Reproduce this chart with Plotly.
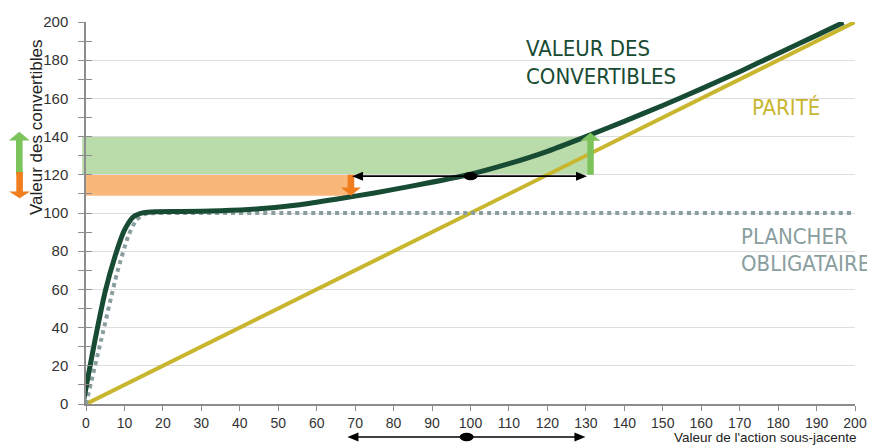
import plotly.graph_objects as go

# ---------------- data ----------------
parite_x = [0, 200]
parite_y = [0, 200]

plancher_x = [0, 4, 8, 11, 13, 15, 18, 25, 60, 100, 150, 200]
plancher_y = [0, 34, 68, 88, 96, 99.2, 100, 100, 100, 100, 100, 100]

conv_x = [-0.8, 2, 5, 7.5, 10, 12.3, 15, 18, 25, 35, 45, 55, 65, 75, 85, 100,
          110, 120, 130, 140, 150, 160, 170, 180, 190, 197]
conv_y = [0, 30, 59, 77, 91, 98, 100.2, 100.7, 100.8, 101.2, 102.2, 104.2, 107.2,
          110.5, 114.2, 120.3, 125.8, 132.3, 140, 148, 156.3, 165, 174, 183.5, 193, 199.8]

x_ticks = list(range(0, 201, 10))
y_ticks = list(range(0, 201, 20))

hausse_range = [120, 140]   # green band
baisse_range = [109, 120]   # orange band
action_range = [69.2, 130.3]
action_center = 100
conv_center = 119.3

# ---------------- layout constants ----------------
W, H = 875, 446
OFF = 8  # page body margin offset of the rendered figure
# target plot area in page pixels: x 86..855, y 22..404
ML, MT = 86 - OFF, 22 - OFF
MR, MB = W - (855 - OFF), H - (404 - OFF)
PW, PH = W - ML - MR, H - MT - MB
XMIN, XMAX, YMIN, YMAX = 0, 200, 0, 200

def xpap(v):
    return (v - XMIN) / (XMAX - XMIN)

def pxw(p):  # pixel width -> paper
    return p / PW

def pyh_data(p):  # pixel height -> data y
    return p * (YMAX - YMIN) / PH

def ypix_paper(py):  # absolute page pixel y -> paper
    return (H - MB - (py - OFF)) / PH

def xpix_paper(px):
    return (px - OFF - ML) / PW

C_CONV = "#174b33"
C_PAR = "#c9b62f"
C_PLAN = "#8a9e9f"
C_GFILL = "#badcaa"
C_OFILL = "#f9b77a"
C_GARROW = "#7dc35b"
C_OARROW = "#f07d1e"

fig = go.Figure()

fig.add_trace(go.Scatter(x=parite_x, y=parite_y, mode="lines",
                         line=dict(color=C_PAR, width=4), hoverinfo="skip"))
fig.add_trace(go.Scatter(x=plancher_x, y=plancher_y, mode="lines",
                         line=dict(color=C_PLAN, width=4, dash="dot", shape="spline", smoothing=0.6),
                         hoverinfo="skip"))
fig.add_trace(go.Scatter(x=conv_x, y=conv_y, mode="lines",
                         line=dict(color=C_CONV, width=5, shape="spline", smoothing=0.6),
                         hoverinfo="skip"))
# helper trace for inner ticks axis
fig.add_trace(go.Scatter(x=[None], y=[None], yaxis="y2", showlegend=False, hoverinfo="skip"))

shapes = []
# bands
shapes.append(dict(type="rect", xref="paper", yref="y", layer="below",
                   x0=xpap(-1), x1=xpap(action_range[1]), y0=hausse_range[0], y1=hausse_range[1],
                   fillcolor=C_GFILL, line=dict(width=0)))
shapes.append(dict(type="rect", xref="paper", yref="y", layer="below",
                   x0=xpap(-0.5), x1=xpap(action_range[0] - 0.5), y0=baisse_range[0], y1=baisse_range[1],
                   fillcolor=C_OFILL, line=dict(width=0)))

def vert_arrow_data(xc_paper, y_start, y_base, y_tip, color, half_shaft=3.3, half_head=10):
    hs, hh = pxw(half_shaft), pxw(half_head)
    path = (f"M{xc_paper-hs},{y_start} L{xc_paper-hs},{y_base} L{xc_paper-hh},{y_base} "
            f"L{xc_paper},{y_tip} L{xc_paper+hh},{y_base} L{xc_paper+hs},{y_base} "
            f"L{xc_paper+hs},{y_start} Z")
    return dict(type="path", xref="paper", yref="y", path=path, fillcolor=color,
                line=dict(width=0), layer="above")

def vert_arrow_paper(xc, y_start, y_base, y_tip, color, half_shaft=3.3, half_head=10.5):
    hs, hh = pxw(half_shaft), pxw(half_head)
    path = (f"M{xc-hs},{y_start} L{xc-hs},{y_base} L{xc-hh},{y_base} "
            f"L{xc},{y_tip} L{xc+hh},{y_base} L{xc+hs},{y_base} "
            f"L{xc+hs},{y_start} Z")
    return dict(type="path", xref="paper", yref="paper", path=path, fillcolor=color,
                line=dict(width=0), layer="above")

# green up arrow at right edge of band
shapes.append(vert_arrow_data(xpap(131.2), hausse_range[0], 137.8, 142, C_GARROW))
# orange down arrow
shapes.append(vert_arrow_data(xpap(68.9), baisse_range[1], 113.3, 109, C_OARROW))

# black double arrows
def hdouble(y, yref, x0, x1, xc, dy_head, dy_dot, head_len=11):
    out = []
    hl = pxw(head_len)
    a, b = xpap(x0), xpap(x1)
    out.append(dict(type="line", xref="paper", yref=yref, x0=a + hl * 0.5, x1=b - hl * 0.5,
                    y0=y, y1=y, line=dict(color="black", width=1.6), layer="above"))
    out.append(dict(type="path", xref="paper", yref=yref, layer="above", fillcolor="black",
                    line=dict(width=0),
                    path=f"M{a},{y} L{a+hl},{y+dy_head} L{a+hl},{y-dy_head} Z"))
    out.append(dict(type="path", xref="paper", yref=yref, layer="above", fillcolor="black",
                    line=dict(width=0),
                    path=f"M{b},{y} L{b-hl},{y+dy_head} L{b-hl},{y-dy_head} Z"))
    c = xpap(xc)
    out.append(dict(type="circle", xref="paper", yref=yref, layer="above", fillcolor="black",
                    line=dict(width=0), x0=c - pxw(7), x1=c + pxw(7), y0=y - dy_dot, y1=y + dy_dot))
    return out

shapes += hdouble(conv_center, "y", action_range[0], action_range[1], action_center,
                  pyh_data(4.5), pyh_data(4.2))
shapes += hdouble(ypix_paper(437), "paper", action_range[0] - 1.2, action_range[1] - 0.4,
                  action_center - 1, 4.5 / PH, 4.2 / PH)

# legend arrows at the left
shapes.append(vert_arrow_paper(xpix_paper(19.3), ypix_paper(175), ypix_paper(140.5),
                               ypix_paper(131.7), C_GARROW))
shapes.append(vert_arrow_paper(xpix_paper(19.6), ypix_paper(172), ypix_paper(191.5),
                               ypix_paper(198.3), C_OARROW))

LBL_FONT = "Liberation Sans Narrow, Arial Narrow, DejaVu Sans Condensed, sans-serif"
LBL_SIZE = 22
annotations = [
    dict(text="VALEUR DES", x=xpix_paper(524), y=ypix_paper(48), xref="paper", yref="paper",
         xanchor="left", yanchor="middle", showarrow=False,
         font=dict(family=LBL_FONT, size=LBL_SIZE, color=C_CONV)),
    dict(text="CONVERTIBLES", x=xpix_paper(524), y=ypix_paper(76), xref="paper", yref="paper",
         xanchor="left", yanchor="middle", showarrow=False,
         font=dict(family=LBL_FONT, size=LBL_SIZE, color=C_CONV)),
    dict(text="PARITÉ", x=xpix_paper(750), y=ypix_paper(108), xref="paper", yref="paper",
         xanchor="left", yanchor="middle", showarrow=False,
         font=dict(family=LBL_FONT, size=LBL_SIZE, color=C_PAR)),
    dict(text="PLANCHER", x=xpix_paper(739), y=ypix_paper(236), xref="paper", yref="paper",
         xanchor="left", yanchor="middle", showarrow=False,
         font=dict(family=LBL_FONT, size=LBL_SIZE, color=C_PLAN)),
    dict(text="OBLIGATAIRE", x=xpix_paper(739), y=ypix_paper(264), xref="paper", yref="paper",
         xanchor="left", yanchor="middle", showarrow=False,
         font=dict(family=LBL_FONT, size=LBL_SIZE, color=C_PLAN)),
    dict(text="Valeur des convertibles", x=xpix_paper(36), y=ypix_paper(127), xref="paper",
         yref="paper", xanchor="center", yanchor="middle", textangle=-90, showarrow=False,
         font=dict(family="Liberation Sans, Arial, sans-serif", size=17, color="#222")),
    dict(text="Valeur de l'action sous-jacente", x=xpix_paper(858), y=ypix_paper(437),
         xref="paper", yref="paper", xanchor="right", yanchor="middle", showarrow=False,
         font=dict(family="Liberation Sans, Arial, sans-serif", size=13.5, color="#222")),
]

AX_COL = "#8c8c8c"
fig.update_layout(
    width=W, height=H,
    margin=dict(l=ML, r=MR, t=MT, b=MB, autoexpand=False),
    paper_bgcolor="white", plot_bgcolor="white",
    showlegend=False,
    shapes=shapes, annotations=annotations,
    font=dict(family="Liberation Sans, Arial, sans-serif", color="#333"),
    xaxis=dict(range=[XMIN, XMAX], tickvals=x_ticks, ticktext=[str(v) for v in x_ticks],
               showgrid=False, zeroline=False, showline=True, linecolor=AX_COL, linewidth=1.5,
               ticks="outside", ticklen=5, tickcolor=AX_COL, tickwidth=1, automargin=False,
               tickfont=dict(size=14, color="#333")),
    yaxis=dict(range=[YMIN, YMAX], tickvals=y_ticks, ticktext=[str(v) for v in y_ticks],
               showgrid=True, gridcolor="#dedede", gridwidth=1, zeroline=False,
               showline=True, linecolor=AX_COL, linewidth=1.5, automargin=False,
               ticks="outside", ticklen=6, tickcolor=AX_COL, tickwidth=1.2,
               minor=dict(dtick=10, ticks="outside", ticklen=6, tickcolor=AX_COL, tickwidth=1.2),
               ticklabelstandoff=7,
               tickfont=dict(size=15, color="#333")),
    yaxis2=dict(range=[YMIN, YMAX], overlaying="y", side="left", dtick=10, tick0=0,
                ticks="inside", ticklen=6, tickcolor=AX_COL, tickwidth=1.2, automargin=False,
                showticklabels=False, showgrid=False, zeroline=False, showline=False),
)

fig.write_html("out.html")
